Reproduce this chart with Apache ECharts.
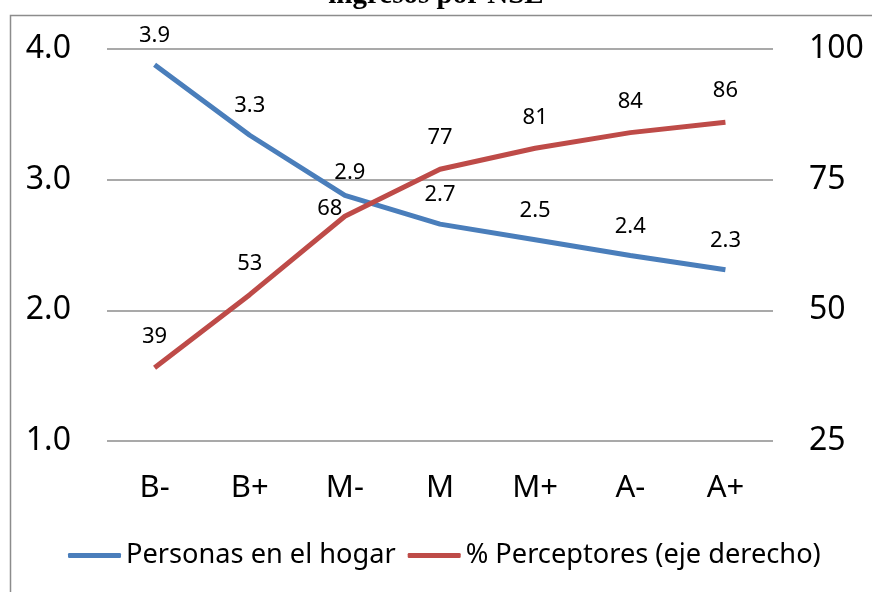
<!DOCTYPE html>
<html><head><meta charset="utf-8">
<script src="https://cdn.jsdelivr.net/npm/echarts@6/dist/echarts.min.js"></script>
<style>html,body{margin:0;padding:0;background:#fff}#c{width:872px;height:592px}</style>
</head><body><div id="c"></div>
<script>
const categories = ['B-','B+','M-','M','M+','A-','A+'];
const personas = [3.88, 3.34, 2.88, 2.66, 2.54, 2.42, 2.31];
const perceptores = [39, 53, 68, 77, 81, 84, 86];
const leftTicks = [1, 4, 1];   // min, max, interval
const rightTicks = [25, 100, 25];
const FONT = '"Noto Sans", sans-serif';

const chart = echarts.init(document.getElementById('c'));
chart.setOption({
  animation: false,
  title: {
    text: 'ingresos por NSE', left: 'center', top: -24,
    textStyle: {fontFamily: '"Liberation Serif", serif', fontWeight: 'bold', fontSize: 29, color: '#000', lineHeight: 29}
  },
  graphic: [{type: 'rect', left: 8, top: 13, shape: {width: 900, height: 620},
    style: {fill: 'none', stroke: '#8c8c8c', lineWidth: 1.5}}],
  grid: {left: 107, right: 99, top: 49, bottom: 151},
  legend: {
    left: 63, top: 537, itemWidth: 53, itemHeight: 5, itemGap: 12, icon: 'roundRect',
    textStyle: {fontFamily: FONT, fontSize: 27.2, color: '#000'},
    data: ['Personas en el hogar', '% Perceptores (eje derecho)']
  },
  xAxis: {
    type: 'category', data: categories, boundaryGap: true,
    axisLine: {show: false}, axisTick: {show: false},
    axisLabel: {fontFamily: FONT, fontSize: 31, color: '#000', margin: 32}
  },
  yAxis: [
    {type: 'value', min: leftTicks[0], max: leftTicks[1], interval: leftTicks[2],
     axisLine: {show: false}, axisTick: {show: false},
     splitLine: {lineStyle: {color: '#8c8c8c', width: 1.5}},
     axisLabel: {fontFamily: FONT, fontSize: 32, color: '#000', margin: 36,
       formatter: v => v.toFixed(1)}},
    {type: 'value', min: rightTicks[0], max: rightTicks[1], interval: rightTicks[2],
     axisLine: {show: false}, axisTick: {show: false}, splitLine: {show: false},
     axisLabel: {fontFamily: FONT, fontSize: 32, color: '#000', margin: 36}}
  ],
  series: [
    {name: 'Personas en el hogar', type: 'line', yAxisIndex: 0,
     data: personas.map((v, i) => i === 2 ? {value: v, label: {offset: [5, 6]}} : v),
     showSymbol: true, symbol: 'circle', symbolSize: 0.1, lineStyle: {color: '#4a7ebb', width: 5}, itemStyle: {color: '#4a7ebb'},
     label: {show: true, position: 'top', distance: 18, fontFamily: FONT, fontSize: 22, color: '#000',
       formatter: p => p.value.toFixed(1)}},
    {name: '% Perceptores (eje derecho)', type: 'line', yAxisIndex: 1,
     data: perceptores.map((v, i) => i === 2 ? {value: v, label: {offset: [-15, 24]}} : v),
     showSymbol: true, symbol: 'circle', symbolSize: 0.1, lineStyle: {color: '#be4b48', width: 5}, itemStyle: {color: '#be4b48'},
     label: {show: true, position: 'top', distance: 20, fontFamily: FONT, fontSize: 22, color: '#000'}}
  ]
});
</script></body></html>
